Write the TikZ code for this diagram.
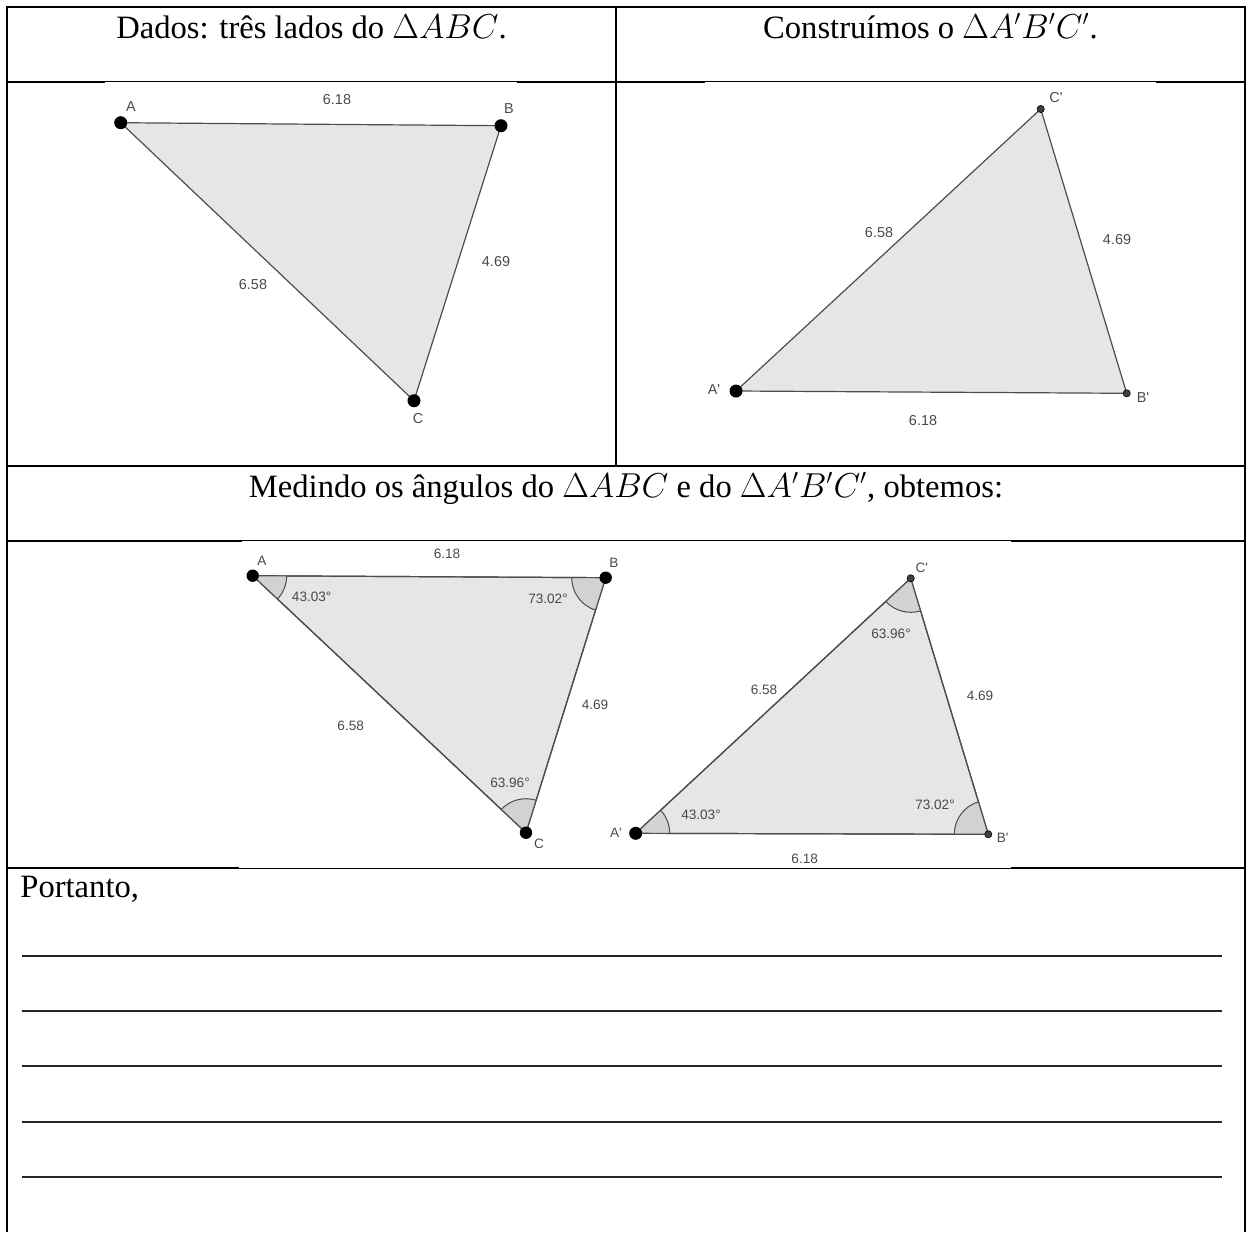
\documentclass[tikz,border=0pt]{standalone}
\usepackage{fontspec}
\setmainfont{Liberation Serif}
\newfontfamily\ggbfont{Liberation Sans}
\usetikzlibrary{calc,angles}
\definecolor{ggbfill}{HTML}{E6E6E6}
\definecolor{ggbangle}{HTML}{D2D2D2}
\definecolor{ggbedge}{HTML}{4D4D4D}
\definecolor{ggbtext}{HTML}{4A4A4A}

\begin{document}
\begin{tikzpicture}[x=0.5pt, y=-0.5pt,
    tabline/.style={line width=1.3pt},
    blankline/.style={line width=0.7pt, black!85},
    tri/.style={draw=ggbedge, fill=ggbfill, line width=0.6pt, line join=round},
    ang/.style={draw=ggbedge, fill=ggbangle, line width=0.5pt, angle radius=17pt},
    bigpt/.style={fill=black},
    smallpt/.style={fill=black!75, draw=black, line width=0.3pt},
    lbl/.style={text=ggbtext, font=\ggbfont\fontsize{7.2}{9}\selectfont, inner sep=0pt},
    lbls/.style={text=ggbtext, font=\ggbfont\fontsize{6.8}{8}\selectfont, inner sep=0pt},
    head/.style={font=\fontsize{16.3}{19}\selectfont, anchor=base, inner sep=0pt},
  ]
  \useasboundingbox (0,0) rectangle (1248,1232);

  % tabela
  \coordinate(TL)at(7,7);
  \coordinate(TR)at(1245,7);
  \coordinate(BL)at(7,1232);
  \coordinate(BR)at(1245,1232);
  \coordinate(MT)at(616,7);
  \coordinate(MB)at(616,466);
  \path[draw, tabline](BL)to(TL)to(TR)to(BR);
  \path[draw, tabline](MT)to(MB);
  \foreach \y in {82,466,541,868}{
    \path[draw, tabline](7,\y)to(1245,\y);
  }
  % bordas das figuras
  \fill[white](105,82)rectangle(517,83.4);
  \fill[white](705,82)rectangle(1156,83.4);
  \fill[white](242,541)rectangle(1011,542.4);
  \fill[white](239,866.6)rectangle(1011,868);

  % textos
  \node[head](h1)at(311.5,38){Dados: três lados do $\Delta ABC$.};
  \node[head](h2)at(930.5,38){Construímos o $\Delta A'B'C'$.};
  \node[head](h3)at(626,497){Medindo os ângulos do $\Delta ABC$ e do $\Delta A'B'C'$, obtemos:};
  \node[head, anchor=base west](h4)at(20,897){Portanto,};
  \foreach \y in {956,1011,1066,1122,1177}{
    \path[draw, blankline](22,\y)to(1222,\y);
  }

  % triangulo ABC dado
  \coordinate(A)at(120.7,122.7);
  \coordinate(B)at(501,125.7);
  \coordinate(C)at(414,400.7);
  \path[tri](A)to(B)to(C)to cycle;
  \fill[bigpt](A)circle(6.5);
  \fill[bigpt](B)circle(6.5);
  \fill[bigpt](C)circle(6.5);
  \node[lbl](lA)at(131,106.7){A};
  \node[lbl](lB)at(509,109){B};
  \node[lbl](lC)at(418,419){C};
  \node[lbl](lAB)at(337,100){6.18};
  \node[lbl](lBC)at(496,262){4.69};
  \node[lbl](lAC)at(253,285){6.58};

  % triangulo A'B'C' construido
  \coordinate(A')at(736,391);
  \coordinate(B')at(1126.7,393.3);
  \coordinate(C')at(1040.7,109);
  \path[tri](A')to(B')to(C')to cycle;
  \fill[bigpt](A')circle(6.5);
  \path[smallpt](B')circle(3.6);
  \path[smallpt](C')circle(3.6);
  \node[lbl](lA')at(714,390){A'};
  \node[lbl](lB')at(1143,398){B'};
  \node[lbl](lC')at(1056,98){C'};
  \node[lbl](lA'B')at(923,421){6.18};
  \node[lbl](lB'C')at(1117,240){4.69};
  \node[lbl](lA'C')at(879,233){6.58};

  % angulos de ABC
  \coordinate(A3)at(252.7,575.7);
  \coordinate(B3)at(605.7,577.7);
  \coordinate(C3)at(526,832.7);
  \path[tri](A3)to(B3)to(C3)to cycle;
  \path pic[ang]{angle = C3--A3--B3};
  \path pic[ang]{angle = A3--B3--C3};
  \path pic[ang]{angle = B3--C3--A3};
  \path[draw=ggbedge, line width=0.6pt](A3)to(B3)to(C3)to cycle;
  \fill[bigpt](A3)circle(6.2);
  \fill[bigpt](B3)circle(6.2);
  \fill[bigpt](C3)circle(6.2);
  \node[lbls](lA3)at(262,560.7){A};
  \node[lbls](lB3)at(614,562.7){B};
  \node[lbls](lC3)at(539,844){C};
  \node[lbls](lA3B3)at(447,554){6.18};
  \node[lbls](lB3C3)at(595,705){4.69};
  \node[lbls](lA3C3)at(350.7,725.7){6.58};
  \node[lbls](angA3)at(311.7,596.7){43.03°};
  \node[lbls](angB3)at(548,599){73.02°};
  \node[lbls](angC3)at(510,782.7){63.96°};

  % angulos de A'B'C'
  \coordinate(A3')at(635.7,833.3);
  \coordinate(B3')at(988.3,834.3);
  \coordinate(C3')at(910.7,578.3);
  \path[tri](A3')to(B3')to(C3')to cycle;
  \path pic[ang]{angle = B3'--A3'--C3'};
  \path pic[ang]{angle = C3'--B3'--A3'};
  \path pic[ang]{angle = A3'--C3'--B3'};
  \path[draw=ggbedge, line width=0.6pt](A3')to(B3')to(C3')to cycle;
  \fill[bigpt](A3')circle(6.5);
  \path[smallpt](B3')circle(3.6);
  \path[smallpt](C3')circle(3.6);
  \node[lbls](lA3')at(616,832.7){A'};
  \node[lbls](lB3')at(1002.7,838){B'};
  \node[lbls](lC3')at(921.7,568){C'};
  \node[lbls](lA3'B3')at(804.7,859){6.18};
  \node[lbls](lB3'C3')at(980,696){4.69};
  \node[lbls](lA3'C3')at(764,690){6.58};
  \node[lbls](angA3')at(701,815){43.03°};
  \node[lbls](angB3')at(935,805){73.02°};
  \node[lbls](angC3')at(891,634){63.96°};
\end{tikzpicture}
\end{document}
